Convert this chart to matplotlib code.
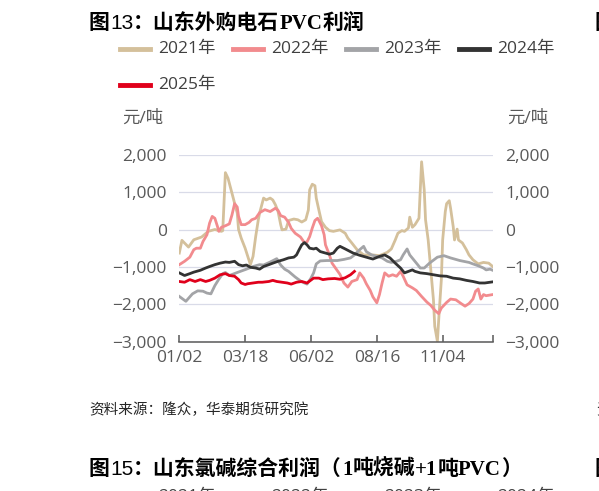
# Shandong PVC (purchased carbide) profit chart, 2021-2025
import matplotlib
matplotlib.use("Agg")
import matplotlib.pyplot as plt
from matplotlib.lines import Line2D
from matplotlib.ticker import StrMethodFormatter

# Data (x = trading-day index within the year, values in yuan/ton)
x21 = [0, 2, 7, 11, 17, 22, 27, 32, 33, 35, 37, 40, 42, 44, 45, 47, 50, 52, 54, 56,
       58, 60, 61, 64, 66, 69, 71, 73, 75, 77, 78, 81, 83, 87, 90, 93, 96, 98, 99, 101,
       103, 104, 106, 108, 111, 114, 117, 122, 126, 128, 131, 135, 140, 147, 152, 158, 161, 164, 166, 169,
       171, 174, 175, 177, 179, 182, 183, 184, 186, 187, 189, 191, 193, 194, 196, 197, 199, 200, 202, 203,
       205, 206, 208, 209, 211, 212, 215, 218, 220, 223, 227, 231, 235, 238]
v21 = [-630, -290, -470, -275, -200, -50, 0, -50, -30, 1520, 1370, 970, 700, 440, 0, -230, -500, -720, -940, -720,
       -190, 260, 440, 840, 790, 840, 790, 660, 480, 130, -10, 10, 240, 280, 260, 200, 260, 520, 1060, 1210,
       1170, 840, 520, 210, 60, -30, -50, -10, -100, -230, -360, -540, -680, -680, -700, -610, -520, -280, -100, -30,
       -50, 40, 330, 60, 130, 300, 1060, 1810, 1060, 260, -280, -1080, -1880, -2590, -2990, -2410, -1340, -280, 480, 690,
       770, 570, 80, -280, 10, -280, -360, -540, -680, -810, -920, -880, -900, -990]

x22 = [0, 4, 8, 11, 13, 16, 18, 21, 23, 25, 27, 29, 30, 32, 35, 38, 40, 42, 44, 45,
       47, 50, 53, 55, 58, 61, 65, 69, 73, 75, 77, 80, 83, 85, 88, 92, 95, 97, 99, 101,
       103, 105, 106, 108, 110, 111, 114, 116, 119, 122, 125, 128, 131, 135, 137, 140, 142, 145, 147, 150,
       152, 154, 156, 159, 162, 165, 168, 170, 173, 177, 180, 184, 188, 191, 194, 197, 199, 203, 206, 210,
       214, 217, 220, 223, 225, 227, 229, 231, 233, 238]
v22 = [-940, -850, -740, -540, -500, -500, -320, -140, 170, 350, 300, 80, -50, 60, 100, 150, 390, 690, 600, 350,
       130, 130, 190, 260, 300, 450, 530, 480, 570, 510, 370, 330, 190, 30, -100, -200, -350, -330, -190, 40,
       240, 300, 240, 100, -140, -410, -680, -900, -1050, -1200, -1430, -1540, -1390, -1340, -1160, -1300, -1450, -1630, -1800, -1960,
       -1740, -1430, -1160, -1250, -1210, -1250, -1120, -1250, -1480, -1560, -1630, -1790, -1940, -2030, -2160, -2250, -2100, -1950, -1860, -1880,
       -1980, -2050, -1980, -1860, -1650, -1590, -1860, -1740, -1770, -1740]

x23 = [0, 5, 10, 14, 18, 21, 24, 27, 30, 33, 35, 38, 44, 51, 56, 61, 64, 69, 74, 77,
       80, 83, 88, 93, 97, 100, 102, 104, 107, 112, 120, 125, 130, 133, 137, 140, 142, 146, 150, 154,
       158, 161, 165, 168, 170, 173, 175, 178, 181, 183, 186, 190, 196, 201, 206, 213, 220, 223, 227, 231,
       233, 236, 238]
v23 = [-1790, -1920, -1720, -1640, -1650, -1700, -1720, -1500, -1330, -1180, -1150, -1230, -1150, -1060, -990, -940, -950, -870, -780, -950,
       -1060, -1120, -1270, -1400, -1460, -1300, -1160, -920, -840, -830, -830, -800, -760, -680, -540, -450, -590, -680, -720, -760,
       -850, -880, -850, -810, -680, -520, -680, -810, -940, -1030, -1030, -900, -740, -700, -760, -830, -880, -920, -970, -1030,
       -1080, -1060, -1090]

x24 = [0, 4, 8, 11, 16, 20, 23, 27, 31, 35, 38, 42, 45, 48, 51, 54, 58, 61, 64, 68,
       71, 75, 79, 83, 87, 89, 91, 93, 95, 97, 99, 102, 104, 107, 111, 114, 117, 120, 122, 126,
       132, 137, 142, 147, 152, 156, 160, 164, 168, 171, 174, 177, 179, 183, 188, 193, 198, 203, 208, 213,
       218, 223, 228, 232, 236, 238]
v24 = [-1160, -1230, -1180, -1140, -1090, -1030, -990, -940, -900, -870, -880, -850, -940, -970, -950, -1010, -1030, -1060, -990, -940,
       -900, -850, -810, -760, -740, -680, -540, -410, -350, -410, -500, -520, -500, -590, -630, -660, -630, -500, -450, -520,
       -630, -690, -740, -790, -720, -680, -760, -900, -1030, -1160, -1120, -1080, -1120, -1160, -1180, -1210, -1240, -1250, -1300, -1320,
       -1360, -1390, -1430, -1430, -1410, -1400]

x25 = [0, 4, 8, 12, 16, 20, 23, 27, 31, 35, 38, 42, 45, 47, 50, 52, 56, 60, 63, 68,
       71, 74, 78, 82, 85, 89, 93, 97, 102, 106, 109, 113, 118, 122, 126, 130, 133]
v25 = [-1390, -1410, -1340, -1390, -1340, -1390, -1360, -1300, -1210, -1180, -1230, -1250, -1340, -1430, -1470, -1450, -1430, -1410, -1410, -1390,
       -1360, -1390, -1410, -1430, -1460, -1410, -1390, -1430, -1300, -1300, -1340, -1320, -1310, -1330, -1290, -1210, -1120]

series_names = ["2021年", "2022年", "2023年", "2024年", "2025年"]
series_colors = ["#d4c09b", "#f28b8e", "#a3a4a7", "#333333", "#e0001b"]
tick_pos = [0, 50, 100, 150, 200, 238]
tick_labels = ["01/02", "03/18", "06/02", "08/16", "11/04", ""]

plt.rcParams["font.family"] = ["Open Sans", "Noto Sans CJK SC", "DejaVu Sans"]

W, H = 599, 491
fig = plt.figure(figsize=(W / 100, H / 100), dpi=100)


def fx(px):
    return px / W


def fy(py):
    return 1 - py / H


# Main axes
ax = fig.add_axes([fx(179.3), fy(341.7), (492.7 - 179.3) / W, (341.7 - 154.7) / H])

for xs, vs, c in zip([x21, x22, x23, x24, x25], [v21, v22, v23, v24, v25], series_colors):
    ax.plot(xs, vs, color=c, lw=2.0, solid_joinstyle="round")

ax.set_xlim(0, 238)
ax.set_ylim(-3000, 2000)
ax.set_yticks(range(-3000, 2001, 1000))
ax.yaxis.set_major_formatter(StrMethodFormatter("{x:,.0f}"))
ax.set_xticks(tick_pos)
ax.set_xticklabels(tick_labels)
ax.grid(axis="y", color="#d9dbe8", lw=0.9)
ax.set_axisbelow(True)
for s in ["top", "left", "right"]:
    ax.spines[s].set_visible(False)
ax.spines["bottom"].set_color("#595959")
ax.spines["bottom"].set_linewidth(1.1)
ax.tick_params(axis="x", direction="in", length=5, width=1.1, color="#595959",
               labelsize=12.5, labelcolor="#595959", pad=6)
ax.tick_params(axis="y", length=0, labelsize=12.5, labelcolor="#595959", pad=9)

# Right axis (same scale)
ax2 = ax.twinx()
ax2.set_ylim(-3000, 2000)
ax2.set_yticks(range(-3000, 2001, 1000))
ax2.yaxis.set_major_formatter(StrMethodFormatter("{x:,.0f}"))
for s in ["top", "left", "right", "bottom"]:
    ax2.spines[s].set_visible(False)
ax2.tick_params(axis="y", length=0, labelsize=12.5, labelcolor="#595959", pad=9)

# Unit labels
fig.text(fx(163), fy(119), "元/吨", ha="right", va="center", size=12.5, color="#595959")
fig.text(fx(507), fy(119), "元/吨", ha="left", va="center", size=12.5, color="#595959")

# Legend (two rows)
for i, (name, c) in enumerate(zip(series_names, series_colors)):
    lx = 120 + (i % 4) * 113
    ly = 49 if i < 4 else 85
    fig.add_artist(Line2D([fx(lx), fx(lx + 30)], [fy(ly), fy(ly)], color=c, lw=3.5,
                          transform=fig.transFigure))
    fig.text(fx(lx + 38), fy(ly), name, ha="left", va="center", size=12.5, color="#404040")

# Titles built from pieces in different fonts
cjk = dict(family=["Noto Sans CJK SC"], weight="bold", size=15)
num = dict(family=["Liberation Sans"], size=15)
serif = dict(family=["Liberation Serif"], weight="bold", size=15)

renderer = fig.canvas.get_renderer()


def chain(pieces, x_px, y_px):
    x = x_px
    for s, kw in pieces:
        t = fig.text(fx(x), fy(y_px), s, ha="left", va="baseline", color="black", **kw)
        x += t.get_window_extent(renderer).width


chain([("图", cjk), ("13", num), ("：山东外购电石", cjk), ("PVC", serif), ("利润", cjk)], 89, 29)
chain([("图", cjk), ("15", num), ("：山东氯碱综合利润（", cjk), ("1", serif), ("吨烧碱", cjk),
       ("+1", serif), ("吨", cjk), ("PVC", serif), ("）", cjk)], 89, 475)

# Source note
fig.text(fx(89), fy(410), "资料来源：隆众，华泰期货研究院", ha="left", va="center",
         size=10.5, style="italic", color="#262626", family=["Noto Sans CJK SC"])

# Cut-off pieces of neighbouring charts on the page
fig.text(fx(595), fy(29), "图14", ha="left", va="baseline", color="black", **cjk)
fig.text(fx(595), fy(475), "图16", ha="left", va="baseline", color="black", **cjk)
fig.text(fx(596), fy(410), "资料来源", ha="left", va="center", size=10.5, color="#262626",
         family=["Noto Sans CJK SC"])
for i, name in enumerate(series_names[:4]):
    fig.text(fx(158 + i * 113), fy(497), name, ha="left", va="center", size=12.5, color="#404040")

fig.savefig("out.png", dpi=100)
